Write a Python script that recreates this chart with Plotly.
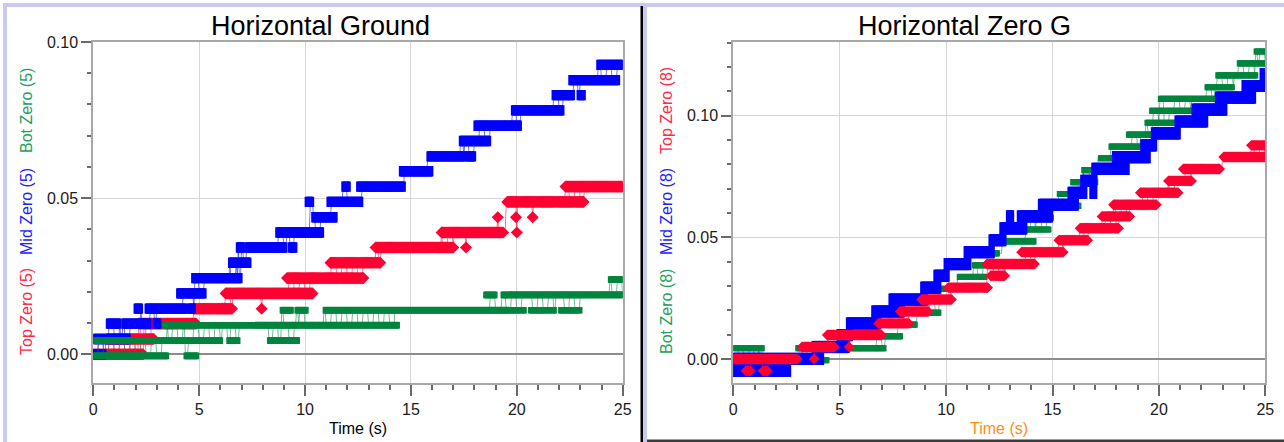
import numpy as np
import plotly.graph_objects as go

DT = 0.05
T_MAX = 25.0
W, H = 1284, 442

TIME_TICKS = [0, 5, 10, 15, 20, 25]
TITLES = ["Horizontal Ground", "Horizontal Zero G"]
X_TITLE = "Time (s)"
LEFT_LABELS = ["Top Zero (5)", "Mid Zero (5)", "Bot Zero (5)"]
RIGHT_LABELS = ["Bot Zero (8)", "Mid Zero (8)", "Top Zero (8)"]

# ---------------- Horizontal Ground (left) ----------------
# Top Zero (5) - red diamonds
LG_TOP_START = [0.0, 0.65, 2.15, 4.75, 7.95, 6.25, 9.15, 11.2, 13.33, 17.6, 16.45, 20.0, 19.1, 19.96, 20.75, 19.55, 22.3]
LG_TOP_END   = [2.35, 2.85, 4.85, 6.55, 7.95, 10.35, 12.75, 13.55, 17.0, 17.6, 19.35, 20.0, 19.1, 19.96, 20.75, 23.15, 25.0]
LG_TOP_VALUE = [0.0, 0.0049, 0.0098, 0.0146, 0.0146, 0.0195, 0.0244, 0.0293, 0.0342, 0.0342, 0.0390, 0.0390, 0.0439, 0.0439, 0.0439, 0.0488, 0.0537]

# Mid Zero (5) - blue
LG_MID_START = [0.0, 0.0, 0.66, 1.39, 2.87, 1.97, 2.49, 4.49, 3.98, 4.69, 5.09, 6.43, 6.88, 6.80, 7.21, 9.26, 8.66, 10.36, 10.05, 11.08, 11.78, 12.48, 14.50, 15.80, 17.61, 17.33, 18.02, 19.79, 21.71, 22.89, 22.50, 23.82]
LG_MID_END   = [0.55, 1.70, 1.26, 2.68, 3.15, 2.28, 4.38, 4.77, 5.28, 5.00, 6.98, 6.80, 7.40, 7.09, 9.10, 9.57, 10.83, 11.47, 10.36, 12.68, 12.09, 14.69, 15.99, 17.52, 18.01, 18.72, 20.17, 22.18, 22.68, 23.19, 24.81, 25.0]
LG_MID_VALUE = [0.0, 0.0049, 0.0098, 0.0098, 0.0098, 0.0146, 0.0146, 0.0146, 0.0195, 0.0244, 0.0244, 0.0293, 0.0293, 0.0342, 0.0342, 0.0342, 0.0390, 0.0439, 0.0488, 0.0488, 0.0537, 0.0537, 0.0586, 0.0634, 0.0634, 0.0683, 0.0732, 0.0781, 0.0830, 0.0830, 0.0878, 0.0927]

# Bot Zero (5) - green
LG_BOT_START = [0.0, 4.33, 0.0, 6.35, 8.27, 3.31, 8.87, 9.57, 10.9, 20.6, 22.02, 18.48, 19.3, 24.37]
LG_BOT_END   = [3.51, 4.93, 6.06, 6.88, 9.69, 14.41, 9.40, 10.10, 20.4, 21.82, 23.03, 19.02, 25.0, 25.0]
LG_BOT_VALUE = [-0.0005, -0.0005, 0.0044, 0.0044, 0.0044, 0.0093, 0.0141, 0.0141, 0.0141, 0.0141, 0.0141, 0.0190, 0.0190, 0.0239]

# ---------------- Horizontal Zero G (right) ----------------
# Bot Zero (8) - green
ZG_BOT_START = [1.2, 0.0, 0.0, 2.98, 6.58, 7.6, 8.6, 9.2, 9.68, 10.57, 11.28, 12.22, 12.77, 13.75, 14.0, 14.9, 15.82, 15.27, 15.9, 16.42, 17.2, 17.7, 18.52, 19.39, 19.61, 20.02, 22.21, 22.72, 23.73, 24.52]
ZG_BOT_END   = [1.9, 4.45, 1.41, 7.13, 7.91, 8.6, 9.71, 9.7, 10.5, 11.87, 12.3, 12.46, 14.18, 14.88, 15.0, 15.3, 16.29, 16.29, 17.08, 16.89, 17.86, 19.11, 19.66, 20.76, 21.54, 22.64, 23.5, 24.6, 25.0, 25.0]
ZG_BOT_VALUE = [-0.0054, -0.0005, 0.0044, 0.0044, 0.0093, 0.0141, 0.0190, 0.0239, 0.0288, 0.0337, 0.0385, 0.0434, 0.0483, 0.0532, 0.0581, 0.0629, 0.0629, 0.0678, 0.0727, 0.0776, 0.0825, 0.0873, 0.0922, 0.0971, 0.1020, 0.1069, 0.1117, 0.1166, 0.1215, 0.1264]

# Mid Zero (8) - blue
ZG_MID_START = [0.0, 1.94, 2.34, 0.0, 3.75, 4.92, 5.36, 6.55, 7.36, 8.85, 9.47, 9.95, 10.89, 12.06, 12.57, 12.88, 13.39, 14.38, 15.77, 16.8, 16.37, 16.89, 17.86, 19.19, 19.69, 20.8, 21.6, 22.7, 23.95, 24.8]
ZG_MID_END   = [1.87, 2.25, 2.65, 4.2, 5.4, 5.56, 6.89, 7.99, 9.09, 9.71, 10.1, 11.12, 12.22, 12.77, 13.75, 13.13, 14.96, 16.17, 16.57, 17.04, 17.04, 18.56, 19.55, 19.85, 20.96, 22.25, 23.15, 24.5, 25.0, 25.0]
ZG_MID_VALUE = [-0.0049, -0.0049, -0.0049, 0.0, 0.0049, 0.0098, 0.0146, 0.0195, 0.0244, 0.0293, 0.0342, 0.0390, 0.0439, 0.0488, 0.0537, 0.0586, 0.0586, 0.0634, 0.0683, 0.0683, 0.0732, 0.0781, 0.0830, 0.0878, 0.0927, 0.0976, 0.1025, 0.1074, 0.1122, 0.1171]

# Top Zero (8) - red diamonds
ZG_TOP_START = [0.6, 1.4, 0.0, 3.8, 3.23, 5.45, 4.42, 6.83, 7.85, 8.85, 10.1, 12.1, 11.92, 13.55, 15.3, 16.3, 17.33, 17.87, 19.13, 20.45, 21.15, 23.05, 24.35]
ZG_TOP_END   = [0.8, 1.6, 3.0, 3.8, 4.75, 5.45, 6.96, 8.25, 9.15, 10.25, 11.95, 12.75, 14.15, 15.5, 16.65, 18.1, 18.63, 19.88, 20.9, 21.53, 22.85, 25.0, 25.0]
ZG_TOP_VALUE = [-0.0049, -0.0049, 0.0, 0.0, 0.0049, 0.0049, 0.0098, 0.0146, 0.0195, 0.0244, 0.0293, 0.0342, 0.0390, 0.0439, 0.0488, 0.0537, 0.0586, 0.0634, 0.0683, 0.0732, 0.0781, 0.0830, 0.0878]

RED = "#ff0033"
BLUE = "#0000ff"
GREEN = "#00853e"
RED_LINE = "rgba(255,0,51,0.55)"
BLUE_LINE = "rgba(0,0,255,0.55)"
GREEN_LINE = "rgba(0,133,62,0.55)"


def expand_runs(starts, ends, values):
    xs, ys = [], []
    for s, e, v in zip(starts, ends, values):
        n = max(1, int(round((e - s) / DT)) + 1)
        t = np.linspace(s, e, n)
        xs.extend(t.tolist())
        ys.extend([v] * n)
    return xs, ys


def flicker_path(starts, ends, values, hold=5):
    st = np.array(starts, float)
    en = np.array(ends, float)
    va = np.array(values, float)
    grid = np.round(np.arange(0, T_MAX + DT / 2, DT), 4)
    ys = []
    for i, t in enumerate(grid):
        cover = np.where((st <= t + 1e-6) & (en >= t - 1e-6))[0]
        if len(cover) == 0:
            d = np.maximum(st - t, t - en)
            ys.append(va[np.argmin(d)])
            continue
        short = [c for c in cover if en[c] - st[c] < 0.25]
        if short:
            pick = short[0]
        else:
            order = cover[np.argsort(st[cover])]
            pick = order[(i // hold) % len(order)]
        ys.append(va[pick])
    return grid.tolist(), ys


fig = go.Figure()


def add_series(starts, ends, values, xa, ya, color, lcolor, kind, size):
    lx, ly = flicker_path(starts, ends, values)
    fig.add_trace(go.Scatter(x=lx, y=ly, mode="lines", xaxis=xa, yaxis=ya,
                             line=dict(color=lcolor, width=1), hoverinfo="skip", showlegend=False))
    mx, my = expand_runs(starts, ends, values)
    if kind == "diamond":
        marker = dict(symbol="diamond", size=size, color=color, line=dict(width=0))
    else:
        marker = dict(symbol="line-ns", size=size, color=color, line=dict(width=3, color=color))
    fig.add_trace(go.Scatter(x=mx, y=my, mode="markers", xaxis=xa, yaxis=ya,
                             marker=marker, hoverinfo="skip", showlegend=False))


# left panel: red, blue, green (green on top)
add_series(LG_TOP_START, LG_TOP_END, LG_TOP_VALUE, "x", "y", RED, RED_LINE, "diamond", 9.3)
add_series(LG_MID_START, LG_MID_END, LG_MID_VALUE, "x", "y", BLUE, BLUE_LINE, "bar", 7.4)
add_series(LG_BOT_START, LG_BOT_END, LG_BOT_VALUE, "x", "y", GREEN, GREEN_LINE, "bar", 4.8)
# right panel: green, blue, red (red on top)
add_series(ZG_BOT_START, ZG_BOT_END, ZG_BOT_VALUE, "x2", "y2", GREEN, GREEN_LINE, "bar", 4.4)
add_series(ZG_MID_START, ZG_MID_END, ZG_MID_VALUE, "x2", "y2", BLUE, BLUE_LINE, "bar", 8.7)
add_series(ZG_TOP_START, ZG_TOP_END, ZG_TOP_VALUE, "x2", "y2", RED, RED_LINE, "diamond", 8.4)

FONT = "Liberation Sans, Arial, sans-serif"
TICKFONT = dict(family=FONT, size=16, color="#202020")


def px_x(p):
    return p / W


def px_y(p):
    return 1 - p / H


def xaxis(domain):
    return dict(domain=domain, range=[0, 25], tickvals=TIME_TICKS, ticks="outside", ticklen=11,
                tickwidth=1.5, tickcolor="#6a6a6a", showline=True, mirror=True, linecolor="#a8a8a8",
                linewidth=2, showgrid=True, gridcolor="#d6d6d6", gridwidth=1.2, zeroline=False,
                tickfont=TICKFONT, fixedrange=True, automargin=False,
                minor=dict(dtick=1, ticks="outside", ticklen=5, tickwidth=1.5, tickcolor="#6a6a6a", showgrid=False))


def yaxis(rng, anchor):
    return dict(domain=[px_y(383), px_y(42)], range=rng, anchor=anchor, dtick=0.05, tick0=0,
                tickformat=".2f", ticks="outside", ticklen=10, tickwidth=1.5, tickcolor="#6a6a6a",
                showline=True, mirror=True, linecolor="#a8a8a8", linewidth=2, showgrid=True,
                gridcolor="#d6d6d6", gridwidth=1.2, zeroline=True, zerolinecolor="#8c8c8c",
                zerolinewidth=2, tickfont=TICKFONT, fixedrange=True, automargin=False,
                minor=dict(dtick=0.01, tick0=0, ticks="outside", ticklen=4, tickwidth=1.5,
                           tickcolor="#6a6a6a", showgrid=False))


annotations = [
    dict(text=TITLES[0], x=px_x(320), y=px_y(26), xref="paper", yref="paper", showarrow=False,
         font=dict(family=FONT, size=27, color="#000000"), xanchor="center", yanchor="middle"),
    dict(text=TITLES[1], x=px_x(965), y=px_y(26), xref="paper", yref="paper", showarrow=False,
         font=dict(family=FONT, size=27, color="#000000"), xanchor="center", yanchor="middle"),
    dict(text=X_TITLE, x=px_x(358), y=px_y(428), xref="paper", yref="paper", showarrow=False,
         font=dict(family=FONT, size=16, color="#000000"), xanchor="center", yanchor="middle"),
    dict(text=X_TITLE, x=px_x(999), y=px_y(428), xref="paper", yref="paper", showarrow=False,
         font=dict(family=FONT, size=16, color="#ff8c1a"), xanchor="center", yanchor="middle"),
]
LABEL_COLORS_LEFT = ["#ff2848", "#2222ff", "#22a060"]
LABEL_COLORS_RIGHT = ["#22a060", "#2222ff", "#ff2848"]
LABEL_Y = [312, 212, 111]
for txt, col, yy in zip(LEFT_LABELS, LABEL_COLORS_LEFT, LABEL_Y):
    annotations.append(dict(text=txt, x=px_x(26), y=px_y(yy), xref="paper", yref="paper",
                            showarrow=False, textangle=-90, xanchor="center", yanchor="middle",
                            font=dict(family=FONT, size=16, color=col)))
for txt, col, yy in zip(RIGHT_LABELS, LABEL_COLORS_RIGHT, LABEL_Y):
    annotations.append(dict(text=txt, x=px_x(666), y=px_y(yy), xref="paper", yref="paper",
                            showarrow=False, textangle=-90, xanchor="center", yanchor="middle",
                            font=dict(family=FONT, size=16, color=col)))

LAV = "#c9c9f2"
shapes = [
    dict(type="rect", xref="paper", yref="paper", x0=px_x(3), x1=px_x(1284), y0=px_y(7), y1=px_y(3),
         fillcolor=LAV, line=dict(width=0), layer="below"),
    dict(type="rect", xref="paper", yref="paper", x0=px_x(3), x1=px_x(7), y0=px_y(442), y1=px_y(3),
         fillcolor=LAV, line=dict(width=0), layer="below"),
    dict(type="rect", xref="paper", yref="paper", x0=px_x(643), x1=px_x(647), y0=px_y(442), y1=px_y(6),
         fillcolor=LAV, line=dict(width=0), layer="below"),
    dict(type="rect", xref="paper", yref="paper", x0=px_x(640.5), x1=px_x(643), y0=px_y(442), y1=px_y(6),
         fillcolor="#000000", line=dict(width=0), layer="above"),
    dict(type="rect", xref="paper", yref="paper", x0=px_x(647), x1=px_x(1284), y0=px_y(442), y1=px_y(439.5),
         fillcolor="#3c3c3c", line=dict(width=0), layer="above"),
]

fig.update_layout(
    width=W, height=H, margin=dict(l=0, r=0, t=0, b=0, pad=0), autosize=False,
    paper_bgcolor="white", plot_bgcolor="white", showlegend=False,
    xaxis=xaxis([px_x(93.3), px_x(622.7)]),
    yaxis=yaxis([-0.0092, 0.10001], "x"),
    xaxis2=dict(xaxis([px_x(733.3), px_x(1265.3)]), anchor="y2"),
    yaxis2=yaxis([-0.0099, 0.1303], "x2"),
    annotations=annotations, shapes=shapes,
)
fig.update_layout(xaxis=dict(anchor="y"))

POST = ("document.documentElement.style.margin='0';document.documentElement.style.padding='0';"
        "document.documentElement.style.overflow='hidden';"
        "document.body.style.margin='0';document.body.style.padding='0';document.body.style.overflow='hidden';")

fig.write_html("out.html", config={"displayModeBar": False}, post_script=POST)
